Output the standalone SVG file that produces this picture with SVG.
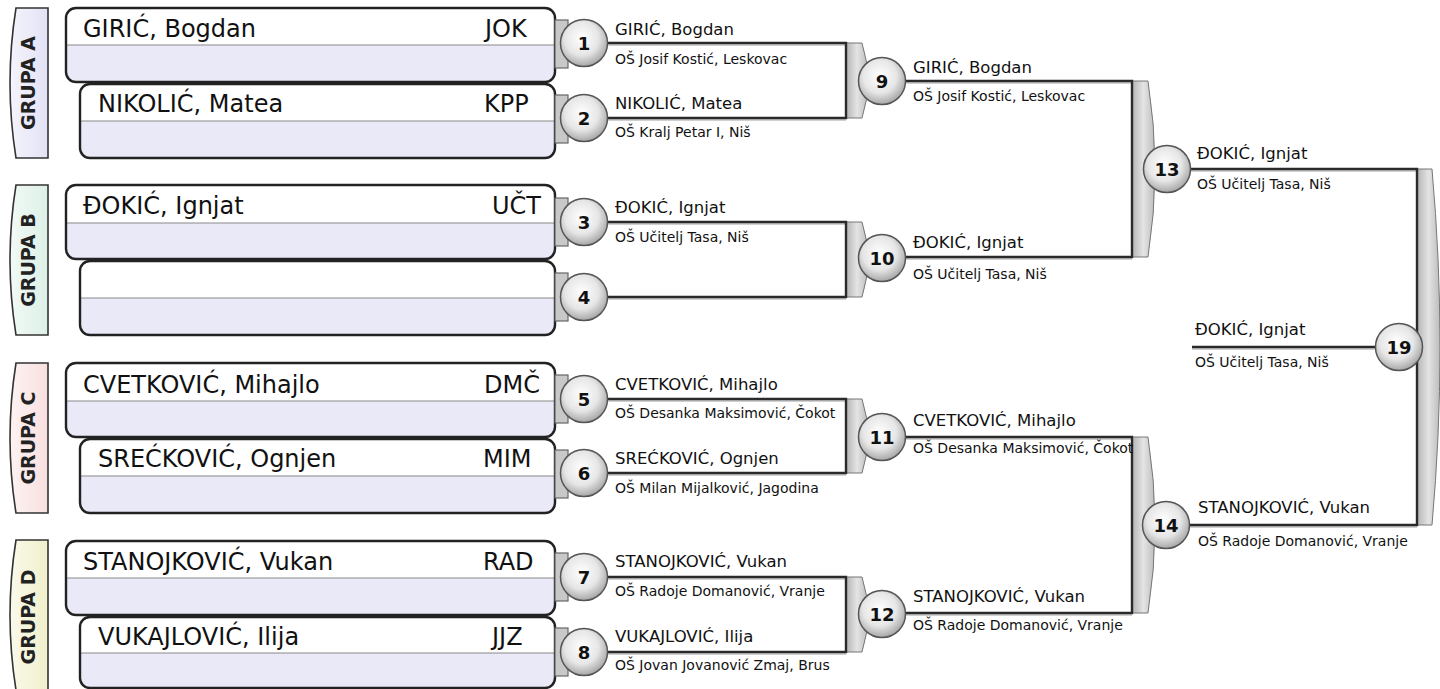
<svg xmlns="http://www.w3.org/2000/svg" width="1440" height="689" viewBox="0 0 1440 689">
<defs>
<radialGradient id="ball" cx="0.45" cy="0.4" r="0.65">
<stop offset="0" stop-color="#ffffff"/>
<stop offset="0.55" stop-color="#e6e6e6"/>
<stop offset="1" stop-color="#9a9a9a"/>
</radialGradient>
<linearGradient id="bar" x1="0" y1="0" x2="1" y2="0">
<stop offset="0" stop-color="#b4b4b4"/>
<stop offset="0.5" stop-color="#e4e4e4"/>
<stop offset="1" stop-color="#bcbcbc"/>
</linearGradient>
<linearGradient id="tabA" x1="0" y1="0" x2="1" y2="0"><stop offset="0" stop-color="#f4f4fc"/><stop offset="1" stop-color="#e2e2f6"/></linearGradient>
<linearGradient id="tabB" x1="0" y1="0" x2="1" y2="0"><stop offset="0" stop-color="#f2faf6"/><stop offset="1" stop-color="#dcf0e6"/></linearGradient>
<linearGradient id="tabC" x1="0" y1="0" x2="1" y2="0"><stop offset="0" stop-color="#fdf3f3"/><stop offset="1" stop-color="#f8dfdf"/></linearGradient>
<linearGradient id="tabD" x1="0" y1="0" x2="1" y2="0"><stop offset="0" stop-color="#fafaea"/><stop offset="1" stop-color="#f0f0cc"/></linearGradient>
</defs>
<style>
.tab{stroke:#333;stroke-width:1.6}
.tabt{font-family:"DejaVu Sans",sans-serif;font-weight:bold;font-size:19px;fill:#222;text-anchor:middle}
.boxbg{fill:#e9e9f8}
.boxtop{fill:#ffffff}
.div{stroke:#8a8a8a;stroke-width:1.2}
.boxo{fill:none;stroke:#222;stroke-width:2.4}
.pn{font-family:"DejaVu Sans",sans-serif;font-size:24px;fill:#111}
.tag{fill:#c8c8c8;stroke:#666;stroke-width:1.2}
.ball{fill:url(#ball);stroke:#555;stroke-width:1.5}
.num{font-family:"DejaVu Sans",sans-serif;font-weight:bold;font-size:18px;fill:#111;text-anchor:middle}
.ln{fill:none;stroke:#2a2a2a;stroke-width:2.4}
.sh{fill:none;stroke:#d0d0d0;stroke-width:2}
.br{fill:url(#bar);stroke:#777;stroke-width:1}
.nm{font-family:"DejaVu Sans",sans-serif;font-size:16.5px;fill:#111}
.sc{font-family:"DejaVu Sans",sans-serif;font-size:14px;fill:#111}
</style>

<g id="tabs">
<g id="grupa-a"><path class="tab" fill="url(#tabA)" d="M48,8 H16 Q4,83 16,158 H48 Z"/><text class="tabt" transform="translate(35,83) rotate(-90)">GRUPA A</text></g>
<g id="grupa-b"><path class="tab" fill="url(#tabB)" d="M48,185 H16 Q4,260 16,335 H48 Z"/><text class="tabt" transform="translate(35,260) rotate(-90)">GRUPA B</text></g>
<g id="grupa-c"><path class="tab" fill="url(#tabC)" d="M48,363 H16 Q4,438 16,513 H48 Z"/><text class="tabt" transform="translate(35,438) rotate(-90)">GRUPA C</text></g>
<g id="grupa-d"><path class="tab" fill="url(#tabD)" d="M48,540 H16 Q4,615 16,690 H48 Z"/><text class="tabt" transform="translate(35,617) rotate(-90)">GRUPA D</text></g>
</g>

<g id="connectors">
<path class="sh" d="M607,45 H846 M607,120 H846 M607,224 H846 M607,299 H846 M607,401 H846 M607,475 H846 M607,579 H846 M607,654 H846 M905,83 H1132 M905,259 H1132 M905,439 H1132 M905,615 H1132 M1190,171 H1417 M1190,527 H1417 M1192,349 H1376"/>
<path class="br" d="M846,43 H862 Q874,81 862,118 H846 Z"/>
<path class="br" d="M846,222 H862 Q874,259 862,297 H846 Z"/>
<path class="br" d="M846,399 H862 Q874,436 862,473 H846 Z"/>
<path class="br" d="M846,577 H862 Q874,614 862,652 H846 Z"/>
<path class="br" d="M1132,81 H1148 Q1162,169 1148,257 H1132 Z"/>
<path class="br" d="M1132,437 H1148 Q1162,525 1148,613 H1132 Z"/>
<path class="br" d="M1417,169 H1432 Q1448,347 1432,525 H1417 Z"/>
<path class="ln" d="M607,43 H846 V118 H607"/>
<path class="ln" d="M607,222 H846 V297 H607"/>
<path class="ln" d="M607,399 H846 V473 H607"/>
<path class="ln" d="M607,577 H846 V652 H607"/>
<path class="ln" d="M905,81 H1132 V257 H905"/>
<path class="ln" d="M905,437 H1132 V613 H905"/>
<path class="ln" d="M1190,169 H1417 V525 H1190"/>
<path class="ln" d="M1192,347 H1376"/>
</g>

<g id="players">
<g id="p1">
<rect class="boxbg" x="66" y="8" width="489" height="74" rx="10"/>
<path class="boxtop" d="M66,45 V18 Q66,8 76,8 H545 Q555,8 555,18 V45 Z"/>
<line class="div" x1="66" y1="45" x2="555" y2="45"/>
<rect class="boxo" x="66" y="8" width="489" height="74" rx="10"/>
<text class="pn" x="83" y="37">GIRIĆ, Bogdan</text><text class="pn" x="485" y="37">JOK</text>
</g>
<g id="p2">
<rect class="boxbg" x="80" y="84" width="475" height="74" rx="10"/>
<path class="boxtop" d="M80,121 V94 Q80,84 90,84 H545 Q555,84 555,94 V121 Z"/>
<line class="div" x1="80" y1="121" x2="555" y2="121"/>
<rect class="boxo" x="80" y="84" width="475" height="74" rx="10"/>
<text class="pn" x="98" y="112">NIKOLIĆ, Matea</text><text class="pn" x="484" y="112">KPP</text>
</g>
<g id="p3">
<rect class="boxbg" x="66" y="185" width="489" height="74" rx="10"/>
<path class="boxtop" d="M66,223 V195 Q66,185 76,185 H545 Q555,185 555,195 V223 Z"/>
<line class="div" x1="66" y1="223" x2="555" y2="223"/>
<rect class="boxo" x="66" y="185" width="489" height="74" rx="10"/>
<text class="pn" x="83" y="214">ĐOKIĆ, Ignjat</text><text class="pn" x="492" y="214">UČT</text>
</g>
<g id="p4">
<rect class="boxbg" x="80" y="261" width="475" height="74" rx="10"/>
<path class="boxtop" d="M80,298 V271 Q80,261 90,261 H545 Q555,261 555,271 V298 Z"/>
<line class="div" x1="80" y1="298" x2="555" y2="298"/>
<rect class="boxo" x="80" y="261" width="475" height="74" rx="10"/>
</g>
<g id="p5">
<rect class="boxbg" x="66" y="363" width="489" height="74" rx="10"/>
<path class="boxtop" d="M66,401 V373 Q66,363 76,363 H545 Q555,363 555,373 V401 Z"/>
<line class="div" x1="66" y1="401" x2="555" y2="401"/>
<rect class="boxo" x="66" y="363" width="489" height="74" rx="10"/>
<text class="pn" x="83" y="393">CVETKOVIĆ, Mihajlo</text><text class="pn" x="484" y="393">DMČ</text>
</g>
<g id="p6">
<rect class="boxbg" x="80" y="439" width="475" height="74" rx="10"/>
<path class="boxtop" d="M80,476 V449 Q80,439 90,439 H545 Q555,439 555,449 V476 Z"/>
<line class="div" x1="80" y1="476" x2="555" y2="476"/>
<rect class="boxo" x="80" y="439" width="475" height="74" rx="10"/>
<text class="pn" x="98" y="467">SREĆKOVIĆ, Ognjen</text><text class="pn" x="483" y="467">MIM</text>
</g>
<g id="p7">
<rect class="boxbg" x="66" y="541" width="489" height="74" rx="10"/>
<path class="boxtop" d="M66,578 V551 Q66,541 76,541 H545 Q555,541 555,551 V578 Z"/>
<line class="div" x1="66" y1="578" x2="555" y2="578"/>
<rect class="boxo" x="66" y="541" width="489" height="74" rx="10"/>
<text class="pn" x="83" y="570">STANOJKOVIĆ, Vukan</text><text class="pn" x="483" y="570">RAD</text>
</g>
<g id="p8">
<rect class="boxbg" x="80" y="617" width="475" height="71" rx="10"/>
<path class="boxtop" d="M80,653 V627 Q80,617 90,617 H545 Q555,617 555,627 V653 Z"/>
<line class="div" x1="80" y1="653" x2="555" y2="653"/>
<rect class="boxo" x="80" y="617" width="475" height="71" rx="10"/>
<text class="pn" x="98" y="645">VUKAJLOVIĆ, Ilija</text><text class="pn" x="492" y="645">JJZ</text>
</g>
</g>

<g id="tags">
<rect class="tag" x="555" y="20" width="13" height="48"/>
<rect class="tag" x="555" y="95" width="13" height="48"/>
<rect class="tag" x="555" y="198" width="13" height="48"/>
<rect class="tag" x="555" y="273" width="13" height="48"/>
<rect class="tag" x="555" y="375" width="13" height="48"/>
<rect class="tag" x="555" y="450" width="13" height="48"/>
<rect class="tag" x="555" y="553" width="13" height="48"/>
<rect class="tag" x="555" y="628" width="13" height="48"/>
</g>

<g id="m1"><circle class="ball" cx="584" cy="43" r="23.5"/><text class="num" x="584" y="50">1</text>
<text class="nm" x="615" y="35">GIRIĆ, Bogdan</text><text class="sc" x="615" y="64">OŠ Josif Kostić, Leskovac</text></g>
<g id="m2"><circle class="ball" cx="584" cy="118" r="23.5"/><text class="num" x="584" y="125">2</text>
<text class="nm" x="615" y="109">NIKOLIĆ, Matea</text><text class="sc" x="615" y="137">OŠ Kralj Petar I, Niš</text></g>
<g id="m3"><circle class="ball" cx="584" cy="222" r="23.5"/><text class="num" x="584" y="229">3</text>
<text class="nm" x="615" y="213">ĐOKIĆ, Ignjat</text><text class="sc" x="615" y="242">OŠ Učitelj Tasa, Niš</text></g>
<g id="m4"><circle class="ball" cx="584" cy="297" r="23.5"/><text class="num" x="584" y="304">4</text></g>
<g id="m5"><circle class="ball" cx="584" cy="399" r="23.5"/><text class="num" x="584" y="406">5</text>
<text class="nm" x="615" y="390">CVETKOVIĆ, Mihajlo</text><text class="sc" x="615" y="418">OŠ Desanka Maksimović, Čokot</text></g>
<g id="m6"><circle class="ball" cx="584" cy="473" r="23.5"/><text class="num" x="584" y="480">6</text>
<text class="nm" x="615" y="464">SREĆKOVIĆ, Ognjen</text><text class="sc" x="615" y="493">OŠ Milan Mijalković, Jagodina</text></g>
<g id="m7"><circle class="ball" cx="584" cy="577" r="23.5"/><text class="num" x="584" y="584">7</text>
<text class="nm" x="615" y="567">STANOJKOVIĆ, Vukan</text><text class="sc" x="615" y="596">OŠ Radoje Domanović, Vranje</text></g>
<g id="m8"><circle class="ball" cx="584" cy="652" r="23.5"/><text class="num" x="584" y="659">8</text>
<text class="nm" x="615" y="642">VUKAJLOVIĆ, Ilija</text><text class="sc" x="615" y="670">OŠ Jovan Jovanović Zmaj, Brus</text></g>
<g id="m9"><circle class="ball" cx="882" cy="81" r="23.5"/><text class="num" x="882" y="88">9</text>
<text class="nm" x="913" y="73">GIRIĆ, Bogdan</text><text class="sc" x="913" y="101">OŠ Josif Kostić, Leskovac</text></g>
<g id="m10"><circle class="ball" cx="882" cy="258" r="23.5"/><text class="num" x="882" y="265">10</text>
<text class="nm" x="913" y="248">ĐOKIĆ, Ignjat</text><text class="sc" x="913" y="279">OŠ Učitelj Tasa, Niš</text></g>
<g id="m11"><circle class="ball" cx="882" cy="437" r="23.5"/><text class="num" x="882" y="444">11</text>
<text class="nm" x="913" y="426">CVETKOVIĆ, Mihajlo</text><text class="sc" x="913" y="453">OŠ Desanka Maksimović, Čokot</text></g>
<g id="m12"><circle class="ball" cx="882" cy="614" r="23.5"/><text class="num" x="882" y="621">12</text>
<text class="nm" x="913" y="602">STANOJKOVIĆ, Vukan</text><text class="sc" x="913" y="630">OŠ Radoje Domanović, Vranje</text></g>
<g id="m13"><circle class="ball" cx="1167" cy="169" r="23.5"/><text class="num" x="1167" y="176">13</text>
<text class="nm" x="1197" y="159">ĐOKIĆ, Ignjat</text><text class="sc" x="1197" y="189">OŠ Učitelj Tasa, Niš</text></g>
<g id="m14"><circle class="ball" cx="1166" cy="525" r="23.5"/><text class="num" x="1166" y="532">14</text>
<text class="nm" x="1198" y="513">STANOJKOVIĆ, Vukan</text><text class="sc" x="1198" y="546">OŠ Radoje Domanović, Vranje</text></g>
<g id="m19"><circle class="ball" cx="1399" cy="347" r="23.5"/><text class="num" x="1399" y="354">19</text>
<text class="nm" x="1195" y="335">ĐOKIĆ, Ignjat</text><text class="sc" x="1195" y="367">OŠ Učitelj Tasa, Niš</text></g>
</svg>
